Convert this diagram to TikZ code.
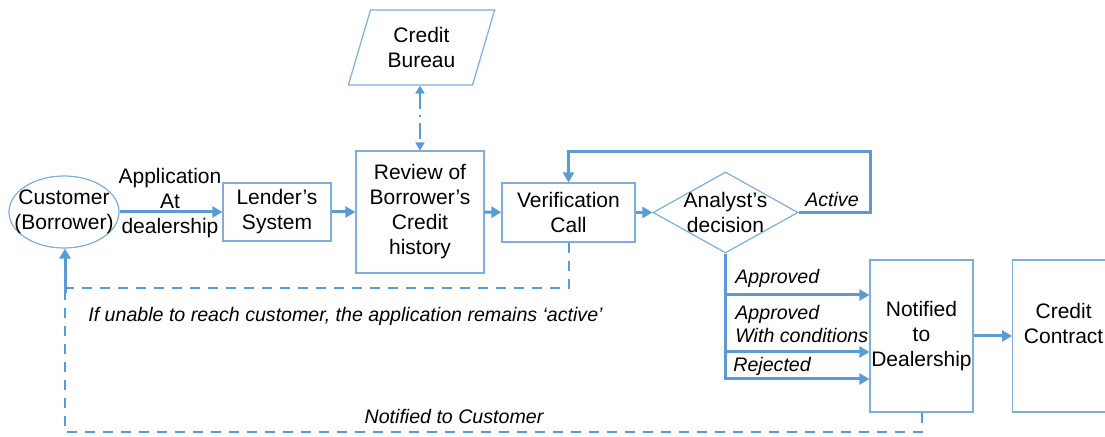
\documentclass[tikz,border=0pt]{standalone}
\usepackage{fontspec}
\setmainfont{Liberation Sans}
\usetikzlibrary{shapes.geometric,arrows.meta,positioning}
\definecolor{flowblue}{HTML}{5B9BD5}
\definecolor{edgeblue}{HTML}{7EAEDD}

\begin{document}
\begin{tikzpicture}[x=0.5pt, y=-0.5pt,
    box/.style={draw=edgeblue, line width=0.6pt, align=center, inner sep=0pt, font=\fontsize{10.5}{12.5}\selectfont},
    tag/.style={font=\fontsize{9.8}{11.5}\selectfont\itshape, inner sep=0pt, align=left},
    flow/.style={draw=flowblue, line width=1.5pt, -{Triangle[length=5pt,width=5.5pt]}},
    dashflow/.style={draw=flowblue, line width=1pt, dash pattern=on 5pt off 4pt}]
    \clip (0,0) rectangle (1105,437);

    \node[box, ellipse, minimum width=55pt, minimum height=36pt, inner xsep=-5.5pt] (cust) at (64,212) {Customer\\(Borrower)};
    \node[box, draw=none] (app) at (170,203) {Application\\At\\dealership};
    \node[box, minimum width=54pt, minimum height=29pt] (lender) at (277,212) {Lender’s\\System};
    \node[box, minimum width=64pt, minimum height=61pt] (review) at (420,212) {Review of\\Borrower’s\\Credit\\history};
    \node[box, trapezium, trapezium left angle=70, trapezium right angle=110, trapezium stretches=true,
          minimum width=73.5pt, minimum height=37.5pt] (bureau) at (421.5,47.5) {Credit\\Bureau};
    \node[box, minimum width=66.5pt, minimum height=29.5pt] (verif) at (568.5,212.5) {Verification\\Call};
    \node[box, diamond, aspect=1.8, inner sep=-3pt, minimum width=72.5pt, minimum height=40.5pt] (decision) at (725.5,212.5) {Analyst’s\\decision};
    \node[box, minimum width=51.5pt, minimum height=76pt] (notif) at (921.5,336) {Notified\\to\\Dealership};
    \node[box, minimum width=51pt, minimum height=76pt, anchor=west] (contract) at (1012,336) {Credit\\Contract\\\mbox{}};

    % main line
    \draw[flow] (cust) -- (lender);
    \draw[flow] (lender) -- (review);
    \draw[flow] (review) -- (verif);
    \draw[flow] (verif) -- (decision);
    \draw[flow] (notif) -- (contract);
    \draw[draw=flowblue, line width=1pt, dash pattern=on 8pt off 3pt on 1pt off 3pt,
          {Triangle[length=4pt,width=4.5pt]}-{Triangle[length=4pt,width=4.5pt]}]
        (review.north |- bureau.south) -- (review.north);

    % active loop
    \coordinate (loop) at (870,152);
    \draw[flow] (decision.east) -| (loop) -| (verif.north);
    \node[tag] (active) at (832,200) {Active};

    % decisions
    \coordinate (b1) at (727,295);
    \coordinate (b2) at (727,352);
    \coordinate (b3) at (727,379);
    \draw[flow] (decision.south) |- (b3 -| notif.west);
    \draw[flow] (b1) -- (b1 -| notif.west);
    \draw[flow] (b2) -- (b2 -| notif.west);
    \node[tag, anchor=west] (approved) at (735,278) {Approved};
    \node[tag, anchor=west] (condition) at (735,324) {Approved\\With conditions};
    \node[tag, anchor=west] (rejected) at (733,366) {Rejected};

    % back to customer
    \coordinate (merge) at (65,293);
    \coordinate (bottom) at (65,432);
    \draw[dashflow] (verif.south) |- (merge |- 0,288);
    \draw[dashflow] (notif.south) |- (bottom) -- (merge);
    \draw[flow] (merge) -- (merge |- cust.south);
    \node[tag, anchor=west] (unable) at (88,316) {If unable to reach customer, the application remains ‘active’};
    \node[tag] (tocust) at (454,417) {Notified to Customer};
\end{tikzpicture}
\end{document}
